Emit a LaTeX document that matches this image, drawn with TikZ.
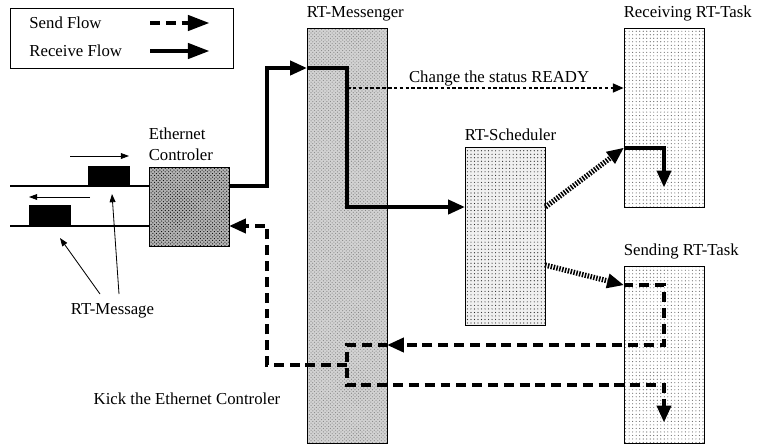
\documentclass[tikz,border=0pt]{standalone}
\usepackage{fontspec}
\setmainfont{Liberation Serif}
\usetikzlibrary{arrows.meta,patterns,positioning}

\tikzset{
  px box/.style 2 args={draw,line width=0.8pt,inner sep=0pt,minimum width=#1*0.03cm,minimum height=#2*0.03cm},
  msgfill/.style={preaction={fill=gray!35},pattern=crosshatch dots,pattern color=gray!95},
  ethfill/.style={preaction={fill=gray!60},pattern=crosshatch dots,pattern color=black},
  schedfill/.style={preaction={fill=gray!12},pattern=dots,pattern color=black!85},
  taskfill/.style={pattern=dots,pattern color=black!60},
  lbl/.style={inner sep=1pt,font=\fontsize{14.3}{18}\selectfont},
  boxlbl/.style={lbl,anchor=south west,inner sep=0pt,yshift=5pt},
  bigtip/.style={-{Triangle[length=14pt,width=13pt,line width=0pt]}},
  recvline/.style={line width=3.4pt},
  recv/.style={recvline,bigtip},
  sendline/.style={line width=4pt,dash pattern=on 8.5pt off 5pt},
  send/.style={sendline,bigtip},
  hatch/.style={line width=4.5pt,dash pattern=on 1.3pt off 1.2pt,bigtip},
  status/.style={line width=1.2pt,dash pattern=on 3pt off 2pt,-{Triangle[length=9pt,width=8pt,line width=0pt]}},
  wire/.style={line width=1.3pt},
  ptr/.style={line width=0.7pt,-{Triangle[length=7pt,width=5pt]}},
  pkt/.style 2 args={fill=black,inner sep=0pt,minimum width=#1*0.03cm,minimum height=#2*0.03cm}
}

\begin{document}
\begin{tikzpicture}[x=0.03cm,y=-0.03cm]
\path[use as bounding box] (0,0) rectangle (757,446);

% legend
\node[px box={223}{60}] (legend) at (121.5,38) {};
\node[lbl,anchor=west] (sendtxt) at (28,23) {Send Flow};
\node[lbl,anchor=west] (recvtxt) at (28,51) {Receive Flow};
\coordinate (ls1) at (150,23); \coordinate (ls2) at (209,23);
\coordinate (lr1) at (150,51); \coordinate (lr2) at (209,51);
\draw[sendline,-{Triangle[length=18pt,width=14pt,line width=0pt]}] (ls1) -- (ls2);
\draw[recvline,-{Triangle[length=18pt,width=14pt,line width=0pt]}] (lr1) -- (lr2);

% boxes
\node[px box={80}{415},msgfill] (msgr) at (347,235.5) {};
\node[boxlbl] at (msgr.north west) {RT-Messenger};
\node[px box={80}{79},ethfill] (eth) at (189,206.5) {};
\node[boxlbl,align=left] at (eth.north west) {Ethernet\\Controler};
\node[px box={80}{178},schedfill] (sched) at (505,236) {};
\node[boxlbl] at (sched.north west) {RT-Scheduler};
\node[px box={80}{179},taskfill] (rtask) at (664,117.5) {};
\node[boxlbl] at (rtask.north west) {Receiving RT-Task};
\node[px box={80}{177},taskfill] (stask) at (664,354.5) {};
\node[boxlbl] at (stask.north west) {Sending RT-Task};

% network
\coordinate (wireT) at (10,186); \coordinate (wireB) at (10,226);
\draw[wire] (wireT) -- (eth.west |- wireT);
\draw[wire] (wireB) -- (eth.west |- wireB);
\node[pkt={42}{20}] (pktA) at (109,176) {};
\node[pkt={42}{21}] (pktB) at (50,215.5) {};
\coordinate (a1) at (70,156); \coordinate (a2) at (129,156);
\coordinate (b1) at (90,197); \coordinate (b2) at (29,197);
\draw[ptr] (a1) -- (a2);
\draw[ptr] (b1) -- (b2);
\node[lbl] (rtmsg) at (112.5,311) {RT-Message};
\coordinate (t1) at (100,294); \coordinate (t2) at (119,294);
\coordinate (t3) at (60,238); \coordinate (t4) at (112,194);
\draw[ptr] (t1) -- (t3);
\draw[ptr] (t2) -- (t4);

% receive flow
\coordinate (k1) at (267,186); \coordinate (k2) at (267,68);
\coordinate (m1) at (347,68); \coordinate (m2) at (347,207);
\draw[recv] (eth.east |- k1) -- (k1) -- (k2) -- (msgr.west |- k2);
\draw[recv] (msgr.west |- k2) -- (m1) -- (m2) -- (sched.west |- m2);
\coordinate (st) at (347,88);
\draw[status] (st) -- node[lbl,above=0pt,pos=0.55] {Change the status READY} (rtask.west |- st);
\coordinate (q1) at (664,148); \coordinate (q2) at (664,187);
\draw[hatch] (sched.east |- m2) -- (rtask.west |- q1);
\draw[recv] (rtask.west |- q1) -- (q1) -- (q2);

% send flow
\coordinate (p0) at (545,265); \coordinate (p1) at (664,285);
\coordinate (p2) at (664,345); \coordinate (p3) at (347,345);
\coordinate (p4) at (347,385); \coordinate (p5) at (664,385);
\coordinate (p6) at (664,422); \coordinate (p7) at (347,365);
\coordinate (k3) at (267,365); \coordinate (k4) at (267,226);
\draw[hatch] (p0) -- (stask.west |- p1);
\draw[send] (stask.west |- p1) -- (p1) -- (p2) -- (msgr.east |- p2);
\draw[send] (msgr.east |- p2) -- (p3) -- (p4) -- (p5) -- (p6);
\draw[send] (p7) -- (k3) -- (k4) -- (eth.east |- k4);
\node[lbl] (kick) at (187,399) {Kick the Ethernet Controler};
\end{tikzpicture}
\end{document}
